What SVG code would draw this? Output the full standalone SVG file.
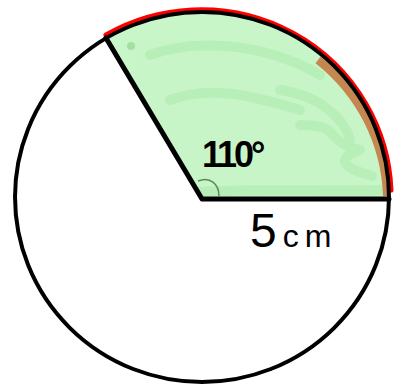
<svg xmlns="http://www.w3.org/2000/svg" width="396" height="387" viewBox="0 0 396 387">
<style>
.ink{fill:none;stroke:#000;stroke-width:5;stroke-linecap:round;stroke-linejoin:round}
.txt{font-family:"Liberation Sans",Arial,sans-serif;fill:#000}
</style>
<defs>
<clipPath id="sec"><path d="M202,199 L106,38 A187,185 0 0,1 389,199 Z"/></clipPath>
</defs>
<rect width="396" height="387" fill="#fff"/>
<g id="sector">
<path d="M202,199 L106,38 A187,185 0 0,1 389,199 Z" fill="#c9f6c9"/>
<g clip-path="url(#sec)" fill="none" stroke="#b4eeb4" stroke-width="10" stroke-linecap="round" stroke-linejoin="round" opacity="0.8">
<path d="M150,55 C190,40 260,40 320,75"/>
<path d="M170,100 C210,85 250,95 300,110"/>
<path d="M280,90 C320,95 345,120 350,140"/>
<path d="M300,125 C345,125 320,140 360,150 C330,160 350,170 372,176"/>
<path d="M200,192 C260,188 320,192 385,190"/>
<path d="M140,100 L150,170"/>
</g>
<circle cx="131" cy="46" r="4" fill="#9fe39f"/>
<g clip-path="url(#sec)">
<path d="M318,60 A184,182 0 0,1 387,196" fill="none" stroke="#c58650" stroke-width="8"/>
</g>
<path d="M106,35 A190,188 0 0,1 391,190" fill="none" stroke="#f00" stroke-width="5" stroke-linecap="round"/>
</g>
<g id="circle">
<ellipse cx="202" cy="197" rx="187" ry="185" fill="none" stroke="#000" stroke-width="4"/>
</g>
<g id="connectors">
<path class="ink" d="M106,38 L202,199 L389,199"/>
<path d="M198,181 C210,176 219,184 219,196" fill="none" stroke="#5a8a5a" stroke-width="1.5"/>
</g>
<g id="labels">
<text class="txt" x="202" y="167" font-size="36" font-weight="bold" letter-spacing="-3">110°</text>
<text class="txt" x="250" y="247" font-size="48">5<tspan font-size="32" dx="6">c</tspan><tspan font-size="32" dx="6">m</tspan></text>
</g>
</svg>
